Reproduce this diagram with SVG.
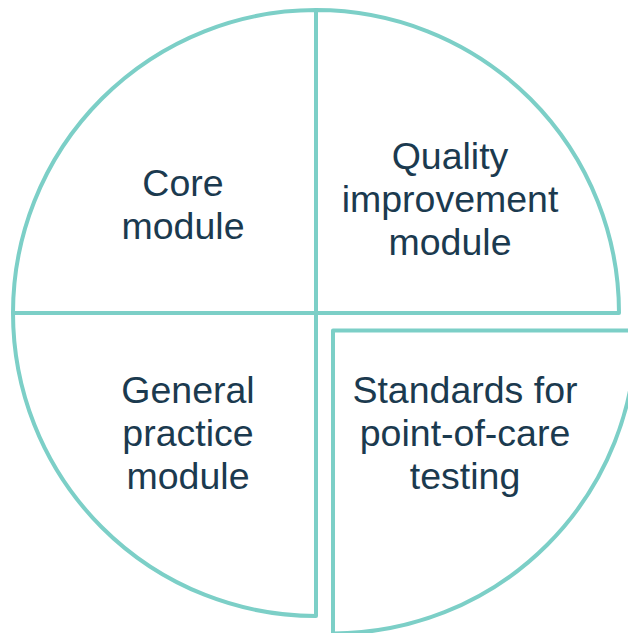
<svg xmlns="http://www.w3.org/2000/svg" width="628" height="633" viewBox="0 0 628 633">
<style>
.q{fill:#ffffff;stroke:#7CCFC7;stroke-width:4;stroke-linejoin:round}
.t{font-family:"Liberation Sans",Arial,sans-serif;font-size:37.5px;fill:#1B3A4F;text-anchor:middle}
</style>
<rect width="628" height="633" fill="#ffffff"/>
<g id="core">
<path class="q" d="M316,313 L13,313 A303,303 0 0 1 316,10 Z"/>
<text class="t" x="183" y="196">Core</text>
<text class="t" x="183" y="238.5">module</text>
</g>
<g id="quality">
<path class="q" d="M316,313 L316,10 A303,303 0 0 1 619,313 Z"/>
<text class="t" x="450" y="169">Quality</text>
<text class="t" x="450" y="212">improvement</text>
<text class="t" x="450" y="255">module</text>
</g>
<g id="general">
<path class="q" d="M316,313 L316,616 A303,303 0 0 1 13,313 Z"/>
<text class="t" x="188" y="403">General</text>
<text class="t" x="188" y="446">practice</text>
<text class="t" x="188" y="489">module</text>
</g>
<g id="poct">
<path class="q" d="M333,330.5 L636,330.5 A303,303 0 0 1 333,633.5 Z"/>
<text class="t" x="465" y="403">Standards for</text>
<text class="t" x="465" y="446">point-of-care</text>
<text class="t" x="465" y="489">testing</text>
</g>
<g id="connectors"/>
</svg>
